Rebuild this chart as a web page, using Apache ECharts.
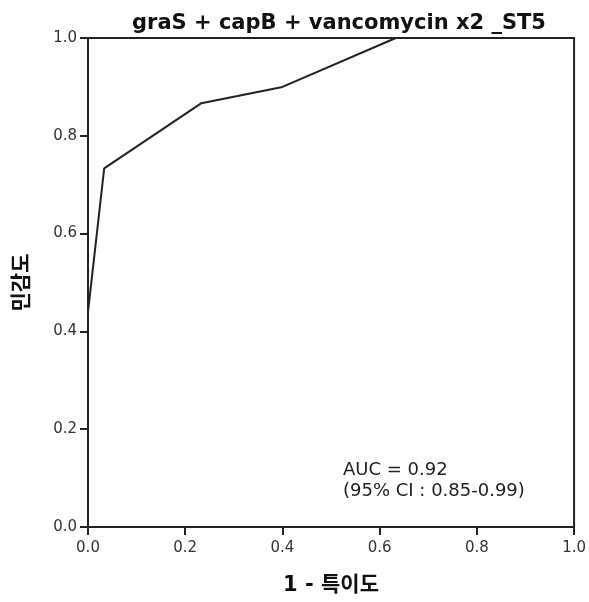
<!DOCTYPE html>
<html>
<head>
<meta charset="utf-8">
<script src="https://cdn.jsdelivr.net/npm/echarts@6/dist/echarts.min.js"></script>
<style>html,body{margin:0;padding:0;background:#fff;}#c{width:589px;height:602px;}</style>
</head>
<body>
<div id="c"></div>
<script>
const fpr = [0, 0, 0.0333, 0.2333, 0.4, 0.6333, 1];
const tpr = [0, 0.44, 0.7333, 0.8667, 0.9, 1, 1];
const titleText = 'graS + capB + vancomycin x2 _ST5';
const xName = '1 - 특이도';
const yName = '민감도';
const aucLines = ['AUC = 0.92', '(95% CI : 0.85-0.99)'];

const chart = echarts.init(document.getElementById('c'), null, {renderer: 'canvas'});
const fam = '"DejaVu Sans", "Noto Sans CJK KR", sans-serif';
chart.setOption({
  backgroundColor: '#fff',
  animation: false,
  title: {
    text: titleText, left: 334, textAlign: 'center', top: 8,
    textStyle: {fontFamily: fam, fontSize: 21, fontWeight: 'bold', color: '#111'}
  },
  grid: {left: 88, right: 11, top: 38, bottom: 75, show: true, borderColor: '#222', borderWidth: 2, backgroundColor: 'transparent'},
  xAxis: {
    type: 'value', min: 0, max: 1, interval: 0.2,
    name: xName, nameLocation: 'middle', nameGap: 48,
    nameTextStyle: {fontFamily: fam, fontSize: 21, fontWeight: 'bold', color: '#111'},
    axisLine: {show: true, lineStyle: {color: '#222', width: 2}},
    axisTick: {show: true, length: 8, lineStyle: {color: '#222', width: 2}},
    axisLabel: {margin: 14, fontFamily: fam, fontSize: 15, color: '#333', formatter: v => v.toFixed(1)},
    splitLine: {show: false}
  },
  yAxis: {
    type: 'value', min: 0, max: 1, interval: 0.2,
    name: yName, nameLocation: 'middle', nameGap: 55,
    nameTextStyle: {fontFamily: fam, fontSize: 21, fontWeight: 'bold', color: '#111'},
    axisLine: {show: true, lineStyle: {color: '#222', width: 2}},
    axisTick: {show: true, length: 8, lineStyle: {color: '#222', width: 2}},
    axisLabel: {margin: 11, fontFamily: fam, fontSize: 15, color: '#333', formatter: v => v.toFixed(1)},
    splitLine: {show: false}
  },
  graphic: [{
    type: 'text', left: 343, top: 460,
    style: {text: aucLines.join('\n'), font: '18px "DejaVu Sans", sans-serif', fill: '#222', lineHeight: 21}
  }],
  series: [{
    type: 'line',
    data: fpr.map((x, i) => [x, tpr[i]]),
    showSymbol: false,
    lineStyle: {color: '#222', width: 2},
    z: 3
  }]
});
</script>
</body>
</html>
